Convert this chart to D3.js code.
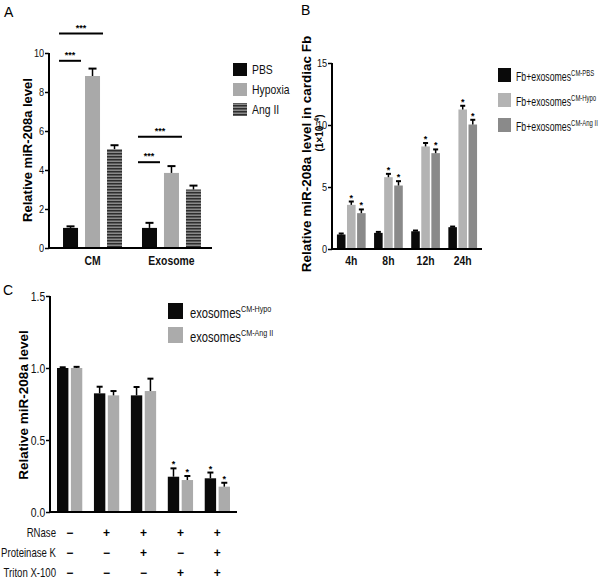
<!DOCTYPE html>
<html><head><meta charset="utf-8">
<script src="https://cdn.jsdelivr.net/npm/d3@7"></script>
<style>
body{margin:0;background:#fff;}
svg{display:block;}
.nar{font-family:"Liberation Sans",Arial,sans-serif;}
.bold{font-family:"Liberation Sans",Arial,sans-serif;font-weight:bold;}
</style></head>
<body><svg id="chart" width="600" height="588"></svg>
<script>
// ---------- Panel A data ----------
const groupsA = ["CM", "Exosome"];
const seriesA = ["PBS", "Hypoxia", "Ang II"];
const pbsA = [1.03, 1.03];
const hypoxiaA = [8.82, 3.85];
const angA = [5.07, 3.0];
const pbsErrA = [0.08, 0.26];
const hypoxiaErrA = [0.38, 0.35];
const angErrA = [0.2, 0.2];
const ticksA = [0, 2, 4, 6, 8, 10];
// significance brackets: group, from series, to series, level
const sigGroupA = ["CM", "CM", "Exosome", "Exosome"];
const sigFromA = [0, 0, 0, 0];
const sigToA = [2, 1, 2, 1];
const sigLevelA = [11.0, 9.6, 5.7, 4.4];

// ---------- Panel B data ----------
const groupsB = ["4h", "8h", "12h", "24h"];
const seriesB = ["CM-PBS", "CM-Hypo", "CM-Ang II"];
const pbsB = [1.17, 1.3, 1.43, 1.76];
const hypoB = [3.56, 5.79, 8.27, 11.25];
const angB = [2.89, 5.12, 7.73, 10.04];
const pbsErrB = [0.08, 0.08, 0.06, 0.05];
const hypoErrB = [0.27, 0.27, 0.28, 0.3];
const angErrB = [0.3, 0.35, 0.3, 0.38];
const ticksB = [0, 5, 10, 15];

// ---------- Panel C data ----------
const groupsC = ["g1", "g2", "g3", "g4", "g5"];
const seriesC = ["CM-Hypo", "CM-Ang II"];
const hypoC = [1.0, 0.824, 0.81, 0.245, 0.234];
const angC = [1.0, 0.81, 0.84, 0.222, 0.176];
const hypoErrC = [0.005, 0.046, 0.058, 0.058, 0.04];
const angErrC = [0.008, 0.03, 0.086, 0.028, 0.027];
const starC = [false, false, false, true, true];
const ticksC = [0, 0.5, 1.0, 1.5];
const rowLabelsC = ["RNase", "Proteinase K", "Triton X-100"];
const rnaseC = ["−", "+", "+", "+", "+"];
const protC = ["−", "−", "+", "−", "+"];
const tritonC = ["−", "−", "−", "+", "+"];

const NS = 0.8; // horizontal squeeze to mimic a narrow face
const svg = d3.select("#chart");
const defs = svg.append("defs");
const pat = defs.append("pattern").attr("id", "stripes").attr("patternUnits", "userSpaceOnUse")
  .attr("width", 6).attr("height", 3);
pat.append("rect").attr("width", 6).attr("height", 3).attr("fill", "#8a8a8a");
pat.append("rect").attr("width", 6).attr("height", 1.5).attr("fill", "#2e2e2e");

// narrow text helper
function ntext(parent, x, y, size, anchor, bold, sq) {
  const g = parent.append("g").attr("transform", `translate(${x},${y}) scale(${sq || NS},1)`);
  return g.append("text").attr("class", bold ? "bold" : "nar").attr("x", 0).attr("y", 0)
    .attr("text-anchor", anchor || "start").style("font-size", size + "px").attr("fill", "#111");
}

function yAxis(g, y, ticks, fmt) {
  g.call(d3.axisLeft(y).tickValues(ticks).tickSize(4).tickPadding(2).tickFormat(fmt));
  g.select(".domain").remove();
  g.selectAll(".tick line").attr("stroke-width", 1.5);
  g.selectAll(".tick text").attr("class", "nar").style("font-size", "11.5px").attr("fill", "#111")
    .attr("transform", `scale(${NS},1)`);
}

function panelLabel(t, x, y) {
  svg.append("text").attr("x", x).attr("y", y).text(t)
    .style("font-family", "Liberation Sans, Arial, sans-serif").style("font-size", "14px");
}

function errBar(g, cx, y0, y1, w) {
  g.append("line").attr("x1", cx).attr("x2", cx).attr("y1", y0).attr("y2", y1)
    .attr("stroke", "#000").attr("stroke-width", 1.5);
  g.append("line").attr("x1", cx - w / 2).attr("x2", cx + w / 2).attr("y1", y1).attr("y2", y1)
    .attr("stroke", "#000").attr("stroke-width", 2);
}

// ================= Panel A =================
(function () {
  const g = svg.append("g");
  const x0 = d3.scaleBand().domain(groupsA).range([53, 211]).paddingInner(0.253).paddingOuter(0.127);
  const x1 = d3.scaleBand().domain(seriesA).range([0, x0.bandwidth()]).paddingInner(0.318).paddingOuter(0);
  const y = d3.scaleLinear().domain([0, 10]).range([248, 53]);
  const vals = [pbsA, hypoxiaA, angA];
  const errs = [pbsErrA, hypoxiaErrA, angErrA];
  const fills = ["#0a0a0a", "#a9a9a9", "url(#stripes)"];
  seriesA.forEach((s, si) => {
    groupsA.forEach((grp, gi) => {
      const bx = x0(grp) + x1(s);
      g.append("rect").attr("x", bx).attr("width", x1.bandwidth())
        .attr("y", y(vals[si][gi])).attr("height", y(0) - y(vals[si][gi])).attr("fill", fills[si]);
      errBar(g, bx + x1.bandwidth() / 2, y(vals[si][gi]), y(vals[si][gi] + errs[si][gi]), 8);
    });
  });
  const ya = g.append("g").attr("transform", "translate(49,0)");
  yAxis(ya, y, ticksA, d3.format("d"));
  g.append("line").attr("x1", 49).attr("x2", 49).attr("y1", 53).attr("y2", 249).attr("stroke", "#000").attr("stroke-width", 2);
  g.append("line").attr("x1", 48).attr("x2", 212).attr("y1", 248).attr("y2", 248).attr("stroke", "#000").attr("stroke-width", 2);
  groupsA.forEach(grp => {
    ntext(g, x0(grp) + x0.bandwidth() / 2, 265, 13, "middle", true).text(grp);
  });
  // significance
  sigGroupA.forEach((grp, i) => {
    const xa = x0(grp) + x1(seriesA[sigFromA[i]]) - 4;
    const xb = x0(grp) + x1(seriesA[sigToA[i]]) - 4;
    const yy = y(sigLevelA[i]);
    g.append("line").attr("x1", xa).attr("x2", xb).attr("y1", yy).attr("y2", yy)
      .attr("stroke", "#000").attr("stroke-width", 2);
    g.append("text").attr("class", "bold").attr("x", (xa + xb) / 2).attr("y", yy - 3)
      .attr("text-anchor", "middle").style("font-size", "9px").text("***");
  });
  g.append("text").attr("class", "bold").attr("transform", "translate(32,150) rotate(-90)")
    .attr("text-anchor", "middle").style("font-size", "13px").text("Relative miR-208a level");
  // legend
  seriesA.forEach((s, i) => {
    g.append("rect").attr("x", 233).attr("y", 63 + i * 20).attr("width", 14).attr("height", 13).attr("fill", fills[i]);
    ntext(g, 252, 74 + i * 20, 13, "start", false).text(s);
  });
})();
panelLabel("A", 4, 17);

// ================= Panel B =================
(function () {
  const g = svg.append("g");
  const x0 = d3.scaleBand().domain(groupsB).range([332, 482]).paddingInner(0.227).paddingOuter(0.133);
  const x1 = d3.scaleBand().domain(seriesB).range([0, x0.bandwidth()]).paddingInner(0.15).paddingOuter(0);
  const y = d3.scaleLinear().domain([0, 15]).range([249, 63]);
  const vals = [pbsB, hypoB, angB];
  const errs = [pbsErrB, hypoErrB, angErrB];
  const fills = ["#0a0a0a", "#b3b3b3", "#8a8a8a"];
  seriesB.forEach((s, si) => {
    groupsB.forEach((grp, gi) => {
      const bx = x0(grp) + x1(s);
      const cx = bx + x1.bandwidth() / 2;
      g.append("rect").attr("x", bx).attr("width", x1.bandwidth())
        .attr("y", y(vals[si][gi])).attr("height", y(0) - y(vals[si][gi])).attr("fill", fills[si]);
      errBar(g, cx, y(vals[si][gi]), y(vals[si][gi] + errs[si][gi]), 5);
      if (si > 0) {
        g.append("text").attr("class", "bold").attr("x", cx).attr("y", y(vals[si][gi] + errs[si][gi]) - 1)
          .attr("text-anchor", "middle").style("font-size", "9px").text("*");
      }
    });
  });
  const ya = g.append("g").attr("transform", "translate(332,0)");
  yAxis(ya, y, ticksB, d3.format("d"));
  g.append("line").attr("x1", 332).attr("x2", 332).attr("y1", 63).attr("y2", 250).attr("stroke", "#000").attr("stroke-width", 2);
  g.append("line").attr("x1", 331).attr("x2", 482).attr("y1", 249).attr("y2", 249).attr("stroke", "#000").attr("stroke-width", 2);
  groupsB.forEach(grp => {
    ntext(g, x0(grp) + x0.bandwidth() / 2, 265, 13, "middle", true).text(grp);
  });
  g.append("text").attr("class", "bold").attr("transform", "translate(311,154) rotate(-90)")
    .attr("text-anchor", "middle").style("font-size", "13.5px").text("Relative miR-208a level in cardiac Fb");
  const t2 = g.append("text").attr("class", "bold").attr("transform", "translate(323,133) rotate(-90)")
    .attr("text-anchor", "middle").style("font-size", "10px");
  t2.append("tspan").text("(1×10");
  t2.append("tspan").attr("dy", -4).style("font-size", "7px").text("−4");
  t2.append("tspan").attr("dy", 4).text(")");
  seriesB.forEach((s, i) => {
    g.append("rect").attr("x", 498).attr("y", 68 + i * 25).attr("width", 13).attr("height", 14).attr("fill", fills[i]);
    const t = ntext(g, 516, 81 + i * 25, 12.5, "start", false, 0.7);
    t.append("tspan").text("Fb+exosomes");
    t.append("tspan").attr("dy", -5).style("font-size", "8.5px").text(s);
  });
})();
panelLabel("B", 301, 15);

// ================= Panel C =================
(function () {
  const g = svg.append("g");
  const x0 = d3.scaleBand().domain(groupsC).range([50, 237]).paddingInner(0.316).paddingOuter(0.19);
  const x1 = d3.scaleBand().domain(seriesC).range([0, x0.bandwidth()]).paddingInner(0.18).paddingOuter(0);
  const y = d3.scaleLinear().domain([0, 1.5]).range([512, 296]);
  const vals = [hypoC, angC];
  const errs = [hypoErrC, angErrC];
  const fills = ["#0a0a0a", "#ababab"];
  seriesC.forEach((s, si) => {
    groupsC.forEach((grp, gi) => {
      const bx = x0(grp) + x1(s);
      const cx = bx + x1.bandwidth() / 2;
      g.append("rect").attr("x", bx).attr("width", x1.bandwidth())
        .attr("y", y(vals[si][gi])).attr("height", y(0) - y(vals[si][gi])).attr("fill", fills[si]);
      errBar(g, cx, y(vals[si][gi]), y(vals[si][gi] + errs[si][gi]), 6);
      if (starC[gi]) {
        g.append("text").attr("class", "bold").attr("x", cx).attr("y", y(vals[si][gi] + errs[si][gi]) - 1)
          .attr("text-anchor", "middle").style("font-size", "9px").text("*");
      }
    });
  });
  const ya = g.append("g").attr("transform", "translate(50,0)");
  yAxis(ya, y, ticksC, d3.format(".1f"));
  g.selectAll(".tick text").style("font-size", "13px");
  g.append("line").attr("x1", 50).attr("x2", 50).attr("y1", 296).attr("y2", 513).attr("stroke", "#000").attr("stroke-width", 2);
  g.append("line").attr("x1", 49).attr("x2", 237).attr("y1", 512).attr("y2", 512).attr("stroke", "#000").attr("stroke-width", 2);
  g.append("text").attr("class", "bold").attr("transform", "translate(28,405) rotate(-90)")
    .attr("text-anchor", "middle").style("font-size", "13.5px").text("Relative miR-208a level");
  const rows = [rnaseC, protC, tritonC];
  const rowY = [537, 557, 577];
  rowLabelsC.forEach((lab, ri) => {
    ntext(g, 56, rowY[ri], 12, "end", false).text(lab);
    groupsC.forEach((grp, gi) => {
      g.append("text").attr("class", "bold").attr("x", x0(grp) + x0.bandwidth() / 2).attr("y", rowY[ri])
        .attr("text-anchor", "middle").style("font-size", "12px").text(rows[ri][gi]);
    });
  });
  seriesC.forEach((s, i) => {
    g.append("rect").attr("x", 168).attr("y", 303 + i * 24).attr("width", 15).attr("height", 16).attr("fill", fills[i]);
    const t = ntext(g, 190, 318 + i * 24, 14, "start", false);
    t.append("tspan").text("exosomes");
    t.append("tspan").attr("dy", -6).style("font-size", "9px").text(s);
  });
})();
panelLabel("C", 3, 295);
</script></body></html>
